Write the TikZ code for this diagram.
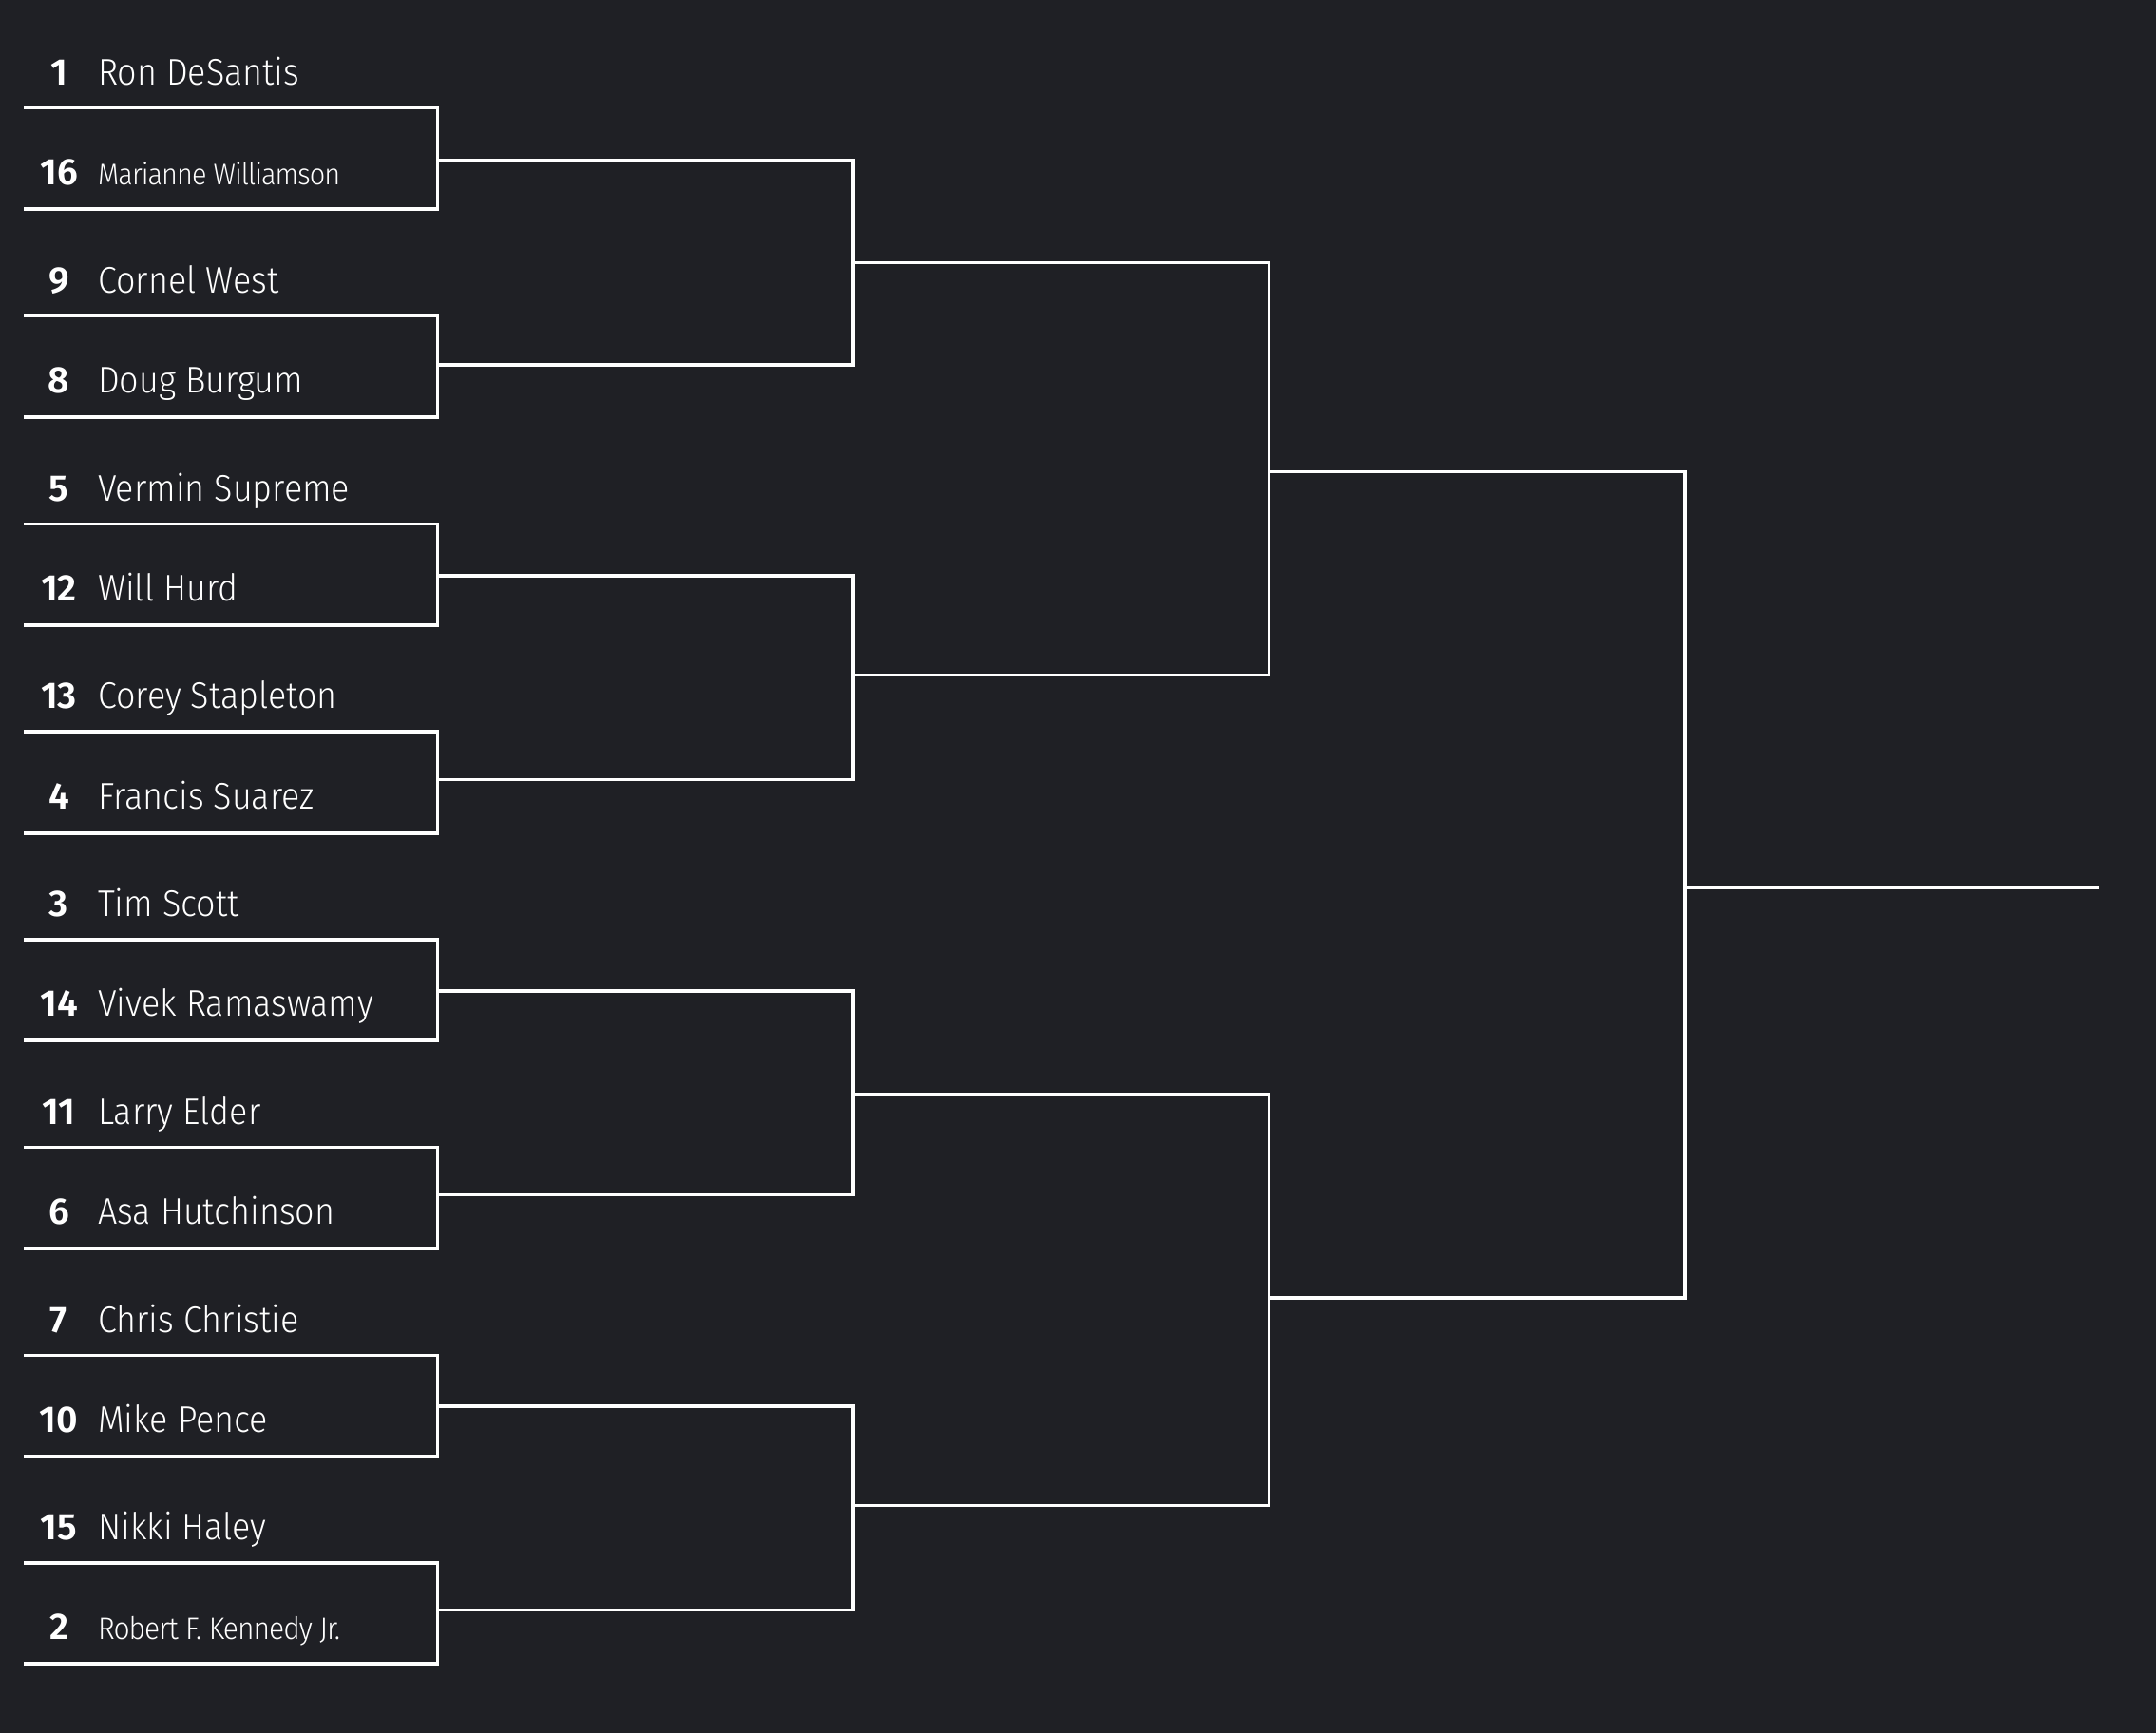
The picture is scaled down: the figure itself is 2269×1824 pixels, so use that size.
\documentclass[tikz,border=0pt]{standalone}
\usepackage{fontspec}
\usepackage{graphicx}
\setmainfont{Fira Sans}[UprightFont=* Light, BoldFont=* SemiBold, UprightFeatures={FakeStretch=0.92}]
\definecolor{bg}{RGB}{31,32,37}
\newcommand{\tightname}[1]{\resizebox{255pt}{!}{\addfontfeatures{LetterSpace=-3}#1}}
\begin{document}
\begin{tikzpicture}[x=1pt,y=-1pt,
  br/.style={draw=white,line width=3.5pt,line join=miter},
  seed/.style={anchor=base,inner sep=0pt,text=white,font=\fontsize{39}{45}\selectfont\bfseries},
  cand/.style={anchor=base west,inner sep=0pt,text=white,font=\fontsize{39}{45}\selectfont}]
\fill[bg] (0,0) rectangle (2269,1824);
\useasboundingbox (0,0) rectangle (2269,1824);
% round 1
\foreach \k/\t/\b/\o/\sa/\na/\sb/\nb in {
 1/113.5/220/169/1/{Ron DeSantis}/16/{\tightname{Marianne Williamson}},
 2/332.5/439/384/9/{Cornel West}/8/{Doug Burgum},
 3/551.5/658/606/5/{Vermin Supreme}/12/{Will Hurd},
 4/770/877/820.5/13/{Corey Stapleton}/4/{Francis Suarez},
 5/989/1095/1043/3/{Tim Scott}/14/{Vivek Ramaswamy},
 6/1207.5/1314/1257.5/11/{Larry Elder}/6/{Asa Hutchinson},
 7/1426.5/1532.5/1480/7/{Chris Christie}/10/{Mike Pence},
 8/1645/1751/1694.5/15/{Nikki Haley}/2/{\tightname{Robert F. Kennedy Jr.}}}{
  \coordinate (a\k) at (25,\t);
  \coordinate (b\k) at (25,\b);
  \coordinate (p\k) at (460.7,\o);
  \coordinate (q\k) at (898,\o);
  \node[seed] (sa\k) at (62,\t-24.5) {\sa};
  \node[cand] (na\k) at (103,\t-24.5) {\na};
  \node[seed] (sb\k) at (62,\b-25.5) {\sb};
  \node[cand] (nb\k) at (103,\b-25.5) {\nb};
  \draw[br] (a\k) -- (a\k -| p\k) -- (b\k -| p\k) -- (b\k);
}
% round 2
\foreach \j/\u/\v/\o in {1/1/2/276.5, 2/3/4/710.5, 3/5/6/1152, 4/7/8/1584.5}{
  \coordinate (r\j) at (898,\o);
  \coordinate (R\j) at (1335.5,\o);
  \draw[br] (p\u) -- (q\u) -- (q\v) -- (p\v);
}
% round 3
\foreach \j/\u/\v/\o in {1/1/2/496.5, 2/3/4/1366}{
  \coordinate (s\j) at (1335.5,\o);
  \coordinate (S\j) at (1773,\o);
  \draw[br] (r\u) -- (R\u) -- (R\v) -- (r\v);
}
% final
\coordinate (f) at (1773,934);
\coordinate (F) at (2209,934);
\draw[br] (s1) -- (S1) -- (S2) -- (s2);
\draw[br] (f) -- (F);
\end{tikzpicture}
\end{document}
